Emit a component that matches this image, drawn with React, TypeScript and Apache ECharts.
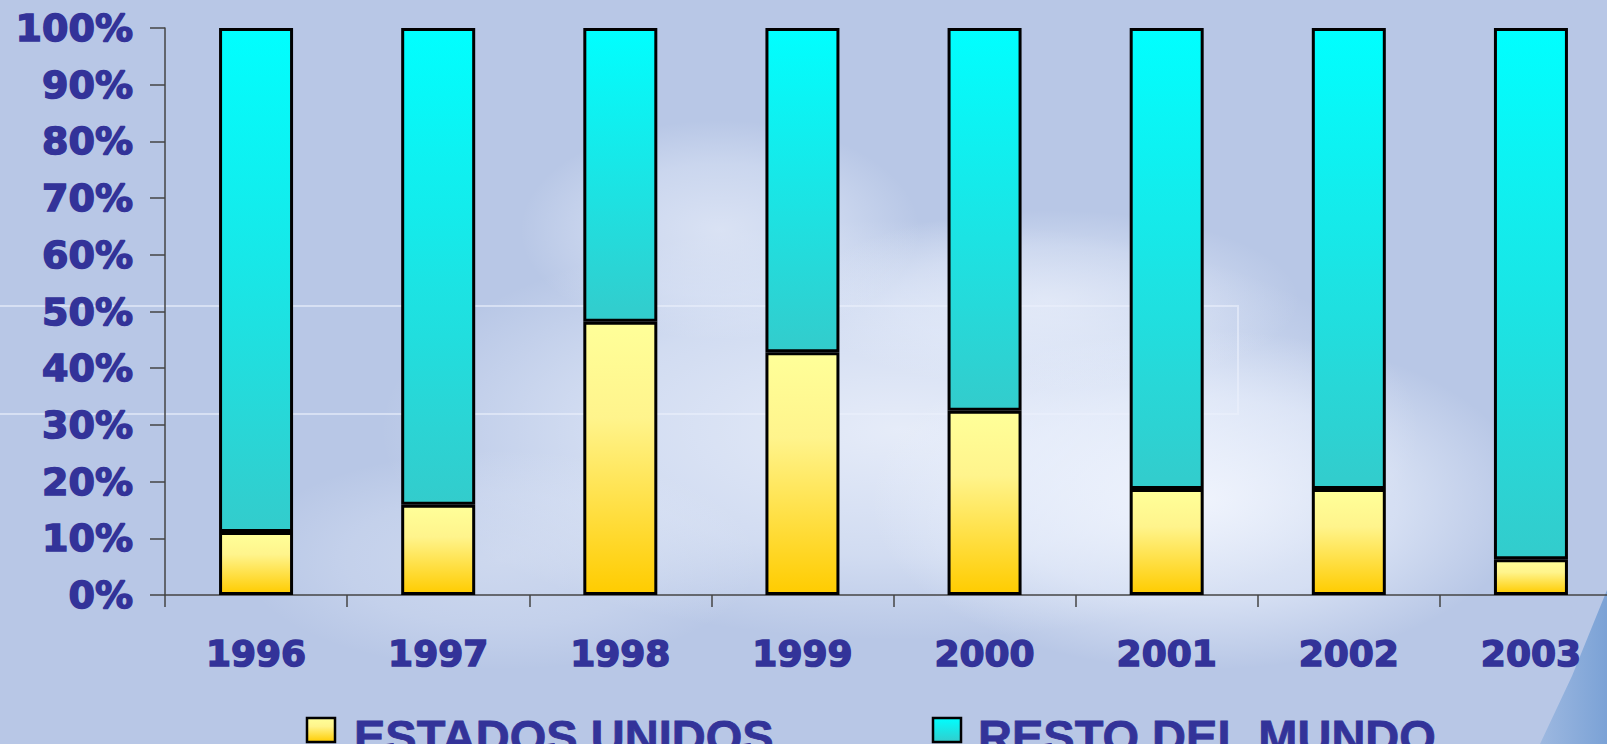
import React, { useEffect, useRef } from "react";
import * as echarts from "echarts";

const categories = ["1996", "1997", "1998", "1999", "2000", "2001", "2002", "2003"];
const estadosUnidos = [11.1, 15.9, 48.2, 42.8, 32.5, 18.7, 18.7, 6.3];
const restoDelMundo = [88.9, 84.1, 51.8, 57.2, 67.5, 81.3, 81.3, 93.7];
const seriesNames = ["ESTADOS UNIDOS", "RESTO DEL MUNDO"];

const TEXT = "#333399";

const yellowGrad = () =>
  new echarts.graphic.LinearGradient(0, 0, 0, 1, [
    { offset: 0, color: "#FFFF99" },
    { offset: 0.35, color: "#FFF48C" },
    { offset: 1, color: "#FFCC00" },
  ]);
const cyanGrad = () =>
  new echarts.graphic.LinearGradient(0, 0, 0, 1, [
    { offset: 0, color: "#00FFFF" },
    { offset: 1, color: "#33CCCC" },
  ]);

const cloud = (cx: number, cy: number, rx: number, ry: number, a: number) => ({
  type: "ellipse",
  z: -10,
  silent: true,
  shape: { cx, cy, rx, ry },
  style: {
    fill: {
      type: "radial",
      x: 0.5,
      y: 0.5,
      r: 0.5,
      colorStops: [
        { offset: 0, color: `rgba(245,248,255,${a})` },
        { offset: 0.6, color: `rgba(240,245,255,${a * 0.6})` },
        { offset: 1, color: "rgba(240,245,255,0)" },
      ],
    },
  },
});

const legendFont = "bold 47px 'Liberation Sans', Arial, sans-serif";

export default function App() {
  const ref = useRef<HTMLDivElement>(null);
  useEffect(() => {
    const chart = echarts.init(ref.current!, null, { renderer: "svg" });
    chart.setOption({
      animation: false,
      backgroundColor: "#B8C7E6",
      graphic: [
        cloud(900, 430, 520, 210, 0.75),
        cloud(1200, 500, 330, 170, 0.85),
        cloud(720, 230, 200, 110, 0.55),
        cloud(1050, 300, 250, 90, 0.5),
        cloud(500, 560, 260, 110, 0.35),
        {
          type: "polyline",
          z: -9,
          silent: true,
          shape: { points: [[0, 306], [1238, 306], [1238, 414], [0, 414]] },
          style: { stroke: "rgba(235,240,252,0.6)", lineWidth: 2, fill: null },
        },
        {
          type: "polygon",
          z: -9,
          silent: true,
          shape: { points: [[1540, 744], [1572, 676], [1607, 590], [1607, 744]] },
          style: {
            fill: new echarts.graphic.LinearGradient(0, 0, 1, 0, [
              { offset: 0, color: "#9DB8E0" },
              { offset: 1, color: "#7BA2D6" },
            ]),
          },
        },
        // legend
        {
          type: "rect",
          shape: { x: 307, y: 718, width: 28, height: 24 },
          style: { fill: yellowGrad(), stroke: "#000", lineWidth: 2.5 },
        },
        {
          type: "text",
          x: 354,
          y: 713,
          style: {
            text: seriesNames[0],
            fill: TEXT,
            font: legendFont,
            verticalAlign: "top",
            stroke: TEXT,
            lineWidth: 0.8,
          },
        },
        {
          type: "rect",
          shape: { x: 933, y: 718, width: 28, height: 24 },
          style: { fill: cyanGrad(), stroke: "#000", lineWidth: 2.5 },
        },
        {
          type: "text",
          x: 978,
          y: 713,
          style: {
            text: seriesNames[1],
            fill: TEXT,
            font: legendFont,
            verticalAlign: "top",
            stroke: TEXT,
            lineWidth: 0.8,
          },
        },
      ],
      grid: {
        left: 165,
        top: 28,
        width: 1457,
        height: 567,
        containLabel: false,
        outerBoundsMode: "none",
      },
      xAxis: {
        type: "category",
        data: categories,
        boundaryGap: true,
        axisLine: { lineStyle: { color: "#444", width: 1.5 } },
        axisTick: { show: true, length: 12, alignWithLabel: false, lineStyle: { color: "#444", width: 1.5 } },
        axisLabel: {
          color: TEXT,
          fontFamily: "'DejaVu Sans', sans-serif",
          fontWeight: "bold",
          fontSize: 36,
          margin: 40,
          interval: 0,
          textBorderColor: TEXT,
          textBorderWidth: 1.5,
        },
      },
      yAxis: {
        type: "value",
        min: 0,
        max: 100,
        interval: 10,
        splitLine: { show: false },
        axisLine: { show: true, lineStyle: { color: "#444", width: 1.5 } },
        axisTick: { show: true, length: 15, lineStyle: { color: "#444", width: 1.5 } },
        axisLabel: {
          color: TEXT,
          fontFamily: "'DejaVu Sans', sans-serif",
          fontWeight: "bold",
          fontSize: 38,
          margin: 32,
          formatter: "{value}%",
          textBorderColor: TEXT,
          textBorderWidth: 1.5,
        },
      },
      series: [
        {
          name: seriesNames[0],
          type: "bar",
          stack: "total",
          data: estadosUnidos,
          barWidth: 74,
          itemStyle: { color: yellowGrad(), borderColor: "#000", borderWidth: 3 },
        },
        {
          name: seriesNames[1],
          type: "bar",
          stack: "total",
          data: restoDelMundo,
          barWidth: 74,
          itemStyle: { color: cyanGrad(), borderColor: "#000", borderWidth: 3 },
        },
      ],
    });
    return () => chart.dispose();
  }, []);
  return (
    <div
      ref={ref}
      style={{ position: "absolute", left: 0, top: 0, width: 1607, height: 744, overflow: "hidden" }}
    />
  );
}
